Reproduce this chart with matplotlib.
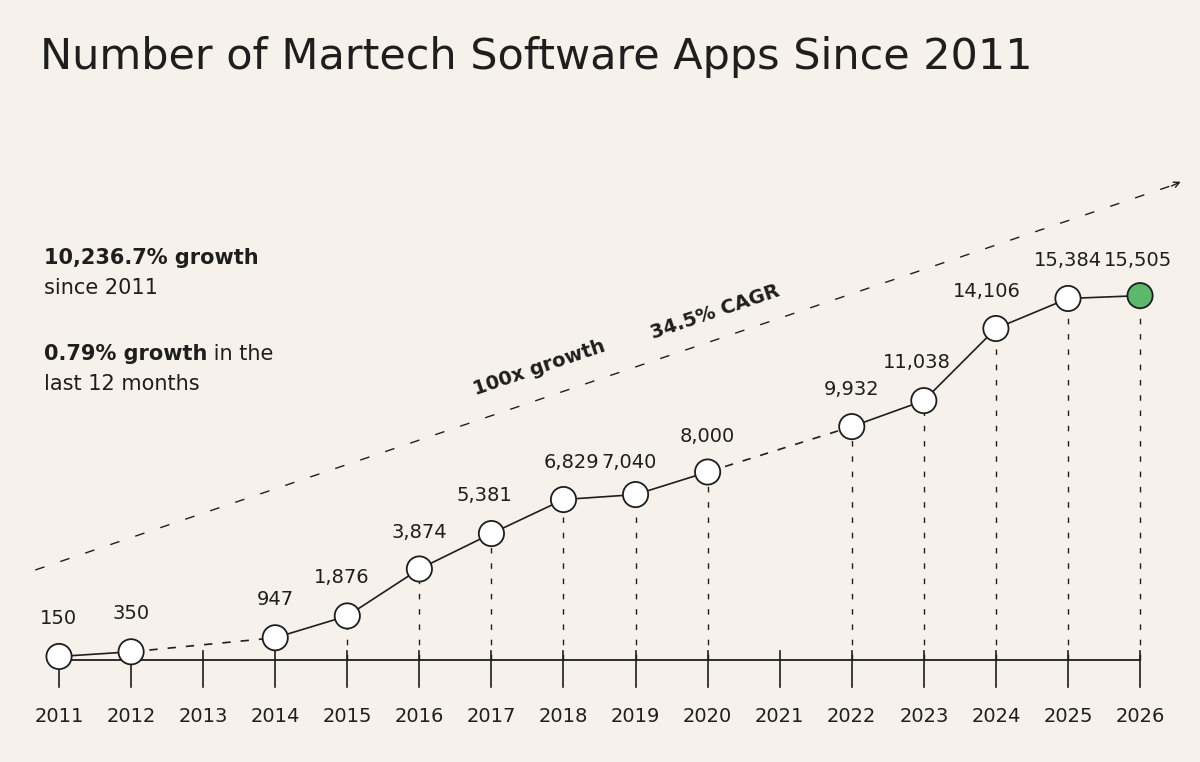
import numpy as np
import matplotlib.pyplot as plt

years = [2011, 2012, 2014, 2015, 2016, 2017, 2018, 2019, 2020, 2022, 2023, 2024, 2025, 2026]
apps = [150, 350, 947, 1876, 3874, 5381, 6829, 7040, 8000, 9932, 11038, 14106, 15384, 15505]
labels = ["150", "350", "947", "1,876", "3,874", "5,381", "6,829", "7,040", "8,000",
          "9,932", "11,038", "14,106", "15,384", "15,505"]
# label offsets in pixels (dx, dy above the point)
offs = [(-1, 38), (0, 38), (0, 38), (-6, 38), (0, 36), (-7, 38), (8, 37), (-7, 32), (0, 36),
        (0, 37), (-7, 38), (-9, 37), (0, 38), (-2, 35)]
all_years = list(range(2011, 2027))

bg = "#f6f2eb"
ink = "#1e1e1e"
fig = plt.figure(figsize=(12, 7.62), dpi=100, facecolor=bg)
ax = fig.add_axes([0, 0, 1, 1], facecolor=bg)
ax.set_xlim(2010.181, 2026.832)
ax.set_ylim(-4340, 28085)
ax.axis("off")

# baseline and ticks
ax.plot([2011, 2026], [0, 0], color=ink, lw=1.3, zorder=2)
for y in all_years:
    ax.plot([y, y], [-1150, 400], color=ink, lw=1.2, zorder=2)
    ax.text(y, -2400, str(y), ha="center", va="center", fontsize=14, color=ink)

# drop lines
for x, v in zip(years, apps):
    if v > 1000:
        ax.plot([x, x], [0, v], color=ink, lw=1, ls=(0, (4, 7)), zorder=1)

# main series: solid where consecutive, dashed over gaps
for i in range(len(years) - 1):
    ls = "-" if years[i + 1] - years[i] == 1 else (0, (5, 6))
    ax.plot(years[i:i + 2], apps[i:i + 2], color=ink, lw=1.2, ls=ls, zorder=3)
colors = ["white"] * (len(years) - 1) + ["#5cb86a"]
ax.scatter(years, apps, s=330, c=colors, edgecolors=ink, linewidths=1.3, zorder=4)

for x, v, t, (dx, dy) in zip(years, apps, labels, offs):
    ax.annotate(t, (x, v), xytext=(dx * 0.72, dy * 0.72), textcoords="offset points",
                ha="center", va="center", fontsize=14, color=ink)

# trend line
tx = [2010.67, 2026.45]
ty = [3830, 20200]
ax.plot(tx, ty, color=ink, lw=1, ls=(0, (7, 12)), zorder=1)
ax.annotate("", xy=(2026.6, 20400), xytext=(2026.4, 20120),
            arrowprops=dict(arrowstyle="->", color=ink, lw=1))
ang = np.degrees(np.arctan(385 / 1135))
ax.text(2017.67, 12425, "100x growth", rotation=ang, ha="center", va="center",
        fontsize=14, fontweight="bold", color=ink)
ax.text(2020.10, 14810, "34.5% CAGR", rotation=ang, ha="center", va="center",
        fontsize=14, fontweight="bold", color=ink)

fig.text(40 / 1200, 1 - 57 / 762, "Number of Martech Software Apps Since 2011",
         fontsize=31, color=ink, va="center")
fig.text(44 / 1200, 1 - 258 / 762, "10,236.7% growth", fontsize=15, fontweight="bold", color=ink, va="center")
fig.text(44 / 1200, 1 - 288 / 762, "since 2011", fontsize=15, color=ink, va="center")
t = fig.text(44 / 1200, 1 - 354 / 762, "0.79% growth", fontsize=15, fontweight="bold", color=ink, va="center")
ax.annotate(" in the", xycoords=t, xy=(1, 0.5), va="center", fontsize=15, color=ink)
fig.text(44 / 1200, 1 - 384 / 762, "last 12 months", fontsize=15, color=ink, va="center")

fig.savefig("out.png", dpi=100, facecolor=bg)
